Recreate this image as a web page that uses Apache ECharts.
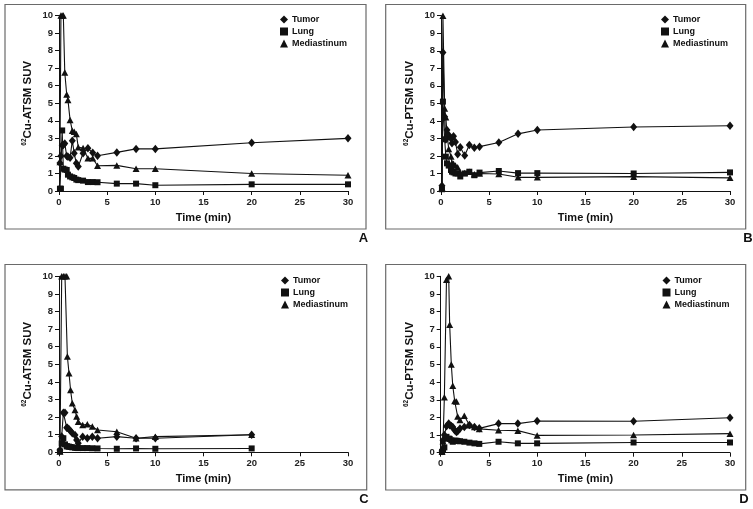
<!DOCTYPE html>
<html><head><meta charset="utf-8">
<script src="https://cdn.jsdelivr.net/npm/echarts@6/dist/echarts.min.js"></script>
<style>html,body{margin:0;padding:0;background:#fff}#c{width:753px;height:509px}</style>
</head><body><div id="c"></div>
<script>
// ---- data (minutes, SUV) ----
var xTicks = [0, 5, 10, 15, 20, 25, 30];
var yTicks = [0, 1, 2, 3, 4, 5, 6, 7, 8, 9, 10];
var seriesNames = ['Tumor', 'Lung', 'Mediastinum'];
var panelLetters = ['A', 'B', 'C', 'D'];
var yTitles = ['Cu-ATSM SUV', 'Cu-PTSM SUV', 'Cu-ATSM SUV', 'Cu-PTSM SUV'];

var timeA = [0.1, 0.2, 0.33, 0.45, 0.6, 0.8, 0.93, 1.15, 1.38, 1.58, 1.8, 2.0, 2.5, 3.0, 3.5, 4.0, 6, 8, 10, 20, 30];
var tumorA = [1.6, 2.0, 2.6, 2.62, 2.7, 2.0, 1.95, 1.9, 2.87, 2.15, 1.58, 1.39, 2.15, 2.43, 2.18, 2.01, 2.2, 2.4, 2.4, 2.75, 3.0];
var lungA = [0.13, 0.13, 3.45, 1.27, 1.22, 1.2, 0.93, 0.83, 0.78, 0.74, 0.65, 0.62, 0.59, 0.51, 0.51, 0.5, 0.42, 0.42, 0.33, 0.38, 0.38];
var medA = [1.65, 10, 10, 10, 6.75, 5.5, 5.18, 4.05, 3.44, 3.38, 3.25, 2.49, 2.45, 1.86, 1.86, 1.44, 1.46, 1.27, 1.27, 1.0, 0.9];

var timeB = [0.1, 0.2, 0.38, 0.5, 0.62, 0.8, 1.04, 1.14, 1.3, 1.5, 1.73, 2.0, 2.46, 2.94, 3.46, 4.0, 6, 8, 10, 20, 30];
var tumorB = [0.3, 7.9, 4.24, 2.94, 3.48, 3.19, 3.0, 2.72, 3.13, 2.8, 2.1, 2.5, 2.02, 2.62, 2.47, 2.53, 2.77, 3.26, 3.48, 3.65, 3.72];
var lungB = [0.1, 5.1, 2.95, 1.96, 1.58, 1.45, 1.2, 1.1, 1.06, 1.0, 1.0, 0.83, 1.0, 1.1, 0.9, 1.05, 1.14, 1.02, 1.02, 1.0, 1.06];
var medB = [0.2, 10, 4.7, 4.2, 3.3, 2.4, 1.97, 1.6, 1.55, 1.45, 1.35, 1.05, 1.02, 1.1, 0.95, 1.0, 0.97, 0.78, 0.78, 0.82, 0.75];

var timeC = [0.1, 0.28, 0.45, 0.62, 0.8, 0.87, 1.04, 1.2, 1.38, 1.66, 1.83, 2.0, 2.46, 2.94, 3.46, 4.0, 6, 8, 10, 20];
var tumorC = [0.13, 0.9, 2.25, 2.25, 1.4, 1.4, 1.31, 1.21, 1.08, 0.98, 0.7, 0.51, 0.89, 0.8, 0.89, 0.8, 0.89, 0.8, 0.8, 1.0];
var lungC = [0.05, 0.5, 0.8, 0.45, 0.35, 0.33, 0.32, 0.3, 0.28, 0.26, 0.25, 0.24, 0.24, 0.24, 0.23, 0.22, 0.2, 0.22, 0.2, 0.22];
var medC = [0.05, 10, 10, 10, 10, 5.44, 4.49, 3.54, 2.78, 2.4, 2.03, 1.74, 1.55, 1.59, 1.46, 1.27, 1.17, 0.8, 0.89, 1.0];

var timeD = [0.14, 0.24, 0.38, 0.6, 0.83, 0.93, 1.1, 1.25, 1.45, 1.63, 1.76, 2.0, 2.45, 2.98, 3.5, 4.0, 6, 8, 10, 20, 30];
var tumorD = [0.1, 0.7, 1.0, 1.5, 1.65, 1.56, 1.52, 1.46, 1.27, 1.18, 1.21, 1.37, 1.45, 1.57, 1.45, 1.38, 1.65, 1.65, 1.8, 1.78, 1.98];
var lungD = [0.05, 0.2, 0.3, 0.9, 0.8, 0.78, 0.7, 0.62, 0.68, 0.68, 0.66, 0.65, 0.62, 0.57, 0.53, 0.5, 0.62, 0.53, 0.53, 0.58, 0.58];
var medD = [0.06, 0.65, 3.15, 9.8, 10, 7.25, 5.0, 3.8, 2.93, 2.9, 2.05, 1.85, 2.1, 1.55, 1.45, 1.35, 1.27, 1.25, 0.98, 1.0, 1.08];

// ---- layout ----
var FONT = '"Liberation Sans", Arial, Helvetica, sans-serif';
var grids = [
  {left: 59, top: 15.5, width: 289, height: 175.5},
  {left: 441, top: 15.7, width: 289, height: 175.3},
  {left: 59, top: 276.3, width: 289, height: 176},
  {left: 440.7, top: 276.3, width: 289.3, height: 176.4}
];
var frames = [
  [5, 4.5, 361, 224.5], [385.7, 4.5, 360, 224.5],
  [5, 264.5, 361.7, 225.3], [385.7, 264.5, 360, 225.5]
];
var letterPos = [[363.5, 232], [748, 232], [364, 493], [744, 493]];
var legendPos = [[280, 15], [661, 15], [281, 276], [662.5, 276]];
var panels = [
  [timeA, tumorA, lungA, medA], [timeB, tumorB, lungB, medB],
  [timeC, tumorC, lungC, medC], [timeD, tumorD, lungD, medD]
];
var symbols = ['diamond', 'rect', 'triangle'];
var symSizes = [[7, 8.5], 6, [7, 6.5]];

function zip(t, v) { var o = []; for (var i = 0; i < t.length; i++) o.push([t[i], v[i]]); return o; }

var xAxes = [], yAxes = [], series = [], legends = [], graphics = [];
for (var p = 0; p < 4; p++) {
  xAxes.push({
    gridIndex: p, type: 'value', min: xTicks[0], max: xTicks[xTicks.length - 1], interval: 5,
    name: 'Time (min)', nameLocation: 'middle', nameGap: 21,
    nameTextStyle: {fontFamily: FONT, fontWeight: 'bold', fontSize: 11, color: '#111'},
    axisLine: {lineStyle: {color: '#111', width: 1}},
    axisTick: {length: 4, lineStyle: {color: '#111'}},
    axisLabel: {margin: 6, fontFamily: FONT, fontWeight: 'bold', fontSize: 9.5, color: '#222'},
    splitLine: {show: false}
  });
  yAxes.push({
    gridIndex: p, type: 'value', min: yTicks[0], max: yTicks[yTicks.length - 1], interval: 1,
    name: '{s|62}{b|' + yTitles[p] + '}', nameLocation: 'middle', nameGap: 24, nameRotate: 90,
    nameTextStyle: {rich: {
      s: {fontFamily: FONT, fontWeight: 'bold', fontSize: 6.5, color: '#111', verticalAlign: 'top', lineHeight: 8},
      b: {fontFamily: FONT, fontWeight: 'bold', fontSize: 11.5, color: '#111', lineHeight: 14}
    }},
    axisLine: {show: true, lineStyle: {color: '#111', width: 1}},
    axisTick: {show: true, length: 4, lineStyle: {color: '#111'}},
    axisLabel: {margin: 6, fontFamily: FONT, fontWeight: 'bold', fontSize: 9.5, color: '#222'},
    splitLine: {show: false}
  });
  for (var s = 0; s < 3; s++) {
    series.push({
      type: 'line', name: seriesNames[s], xAxisIndex: p, yAxisIndex: p,
      data: zip(panels[p][0], panels[p][s + 1]),
      symbol: symbols[s], symbolSize: symSizes[s], showAllSymbol: true, connectNulls: true,
      lineStyle: {color: '#111', width: 1.1}, itemStyle: {color: '#111'},
      emphasis: {disabled: true}, animation: false
    });
  }
  legends.push({
    left: legendPos[p][0], top: legendPos[p][1], orient: 'vertical', padding: 0,
    itemWidth: 8, itemHeight: 8, itemGap: 3, selectedMode: false,
    textStyle: {fontFamily: FONT, fontWeight: 'bold', fontSize: 9, color: '#111', padding: [0, 0, 0, -1]},
    data: [{name: 'Tumor', icon: 'diamond'}, {name: 'Lung', icon: 'rect'}, {name: 'Mediastinum', icon: 'triangle'}]
  });
  graphics.push({
    type: 'rect', silent: true, z: -1,
    shape: {x: frames[p][0], y: frames[p][1], width: frames[p][2], height: frames[p][3]},
    style: {fill: 'none', stroke: '#6a6a6a', lineWidth: 1.2}
  });
  graphics.push({
    type: 'text', silent: true, x: letterPos[p][0], y: letterPos[p][1],
    style: {text: panelLetters[p], fontFamily: FONT, fontWeight: 'bold', fontSize: 13, fill: '#111', textAlign: 'center'}
  });
}

var chart = echarts.init(document.getElementById('c'), null, {renderer: 'canvas'});
chart.setOption({
  animation: false, backgroundColor: '#fff',
  grid: grids, xAxis: xAxes, yAxis: yAxes, series: series, legend: legends, graphic: graphics
});
</script></body></html>
